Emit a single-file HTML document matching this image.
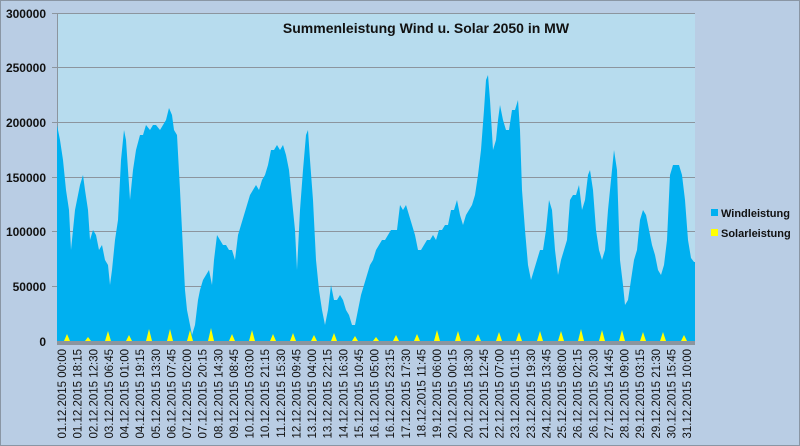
<!DOCTYPE html>
<html><head><meta charset="utf-8"><style>
html,body{margin:0;padding:0;background:#b9cde4;}
svg{display:block;font-family:"Liberation Sans",sans-serif;}
</style></head><body>
<svg width="800" height="446" viewBox="0 0 800 446">
<rect x="0" y="0" width="800" height="446" fill="#b9cde4"/>
<rect x="0.5" y="0.5" width="799" height="445" fill="none" stroke="#8a96a4"/>
<rect x="57" y="13" width="638" height="328" fill="#b7dcee"/>
<g stroke="#8c959e" stroke-width="1">
<line x1="52" y1="13.5" x2="695" y2="13.5"/>
<line x1="52" y1="67.5" x2="695" y2="67.5"/>
<line x1="52" y1="122.5" x2="695" y2="122.5"/>
<line x1="52" y1="177.5" x2="695" y2="177.5"/>
<line x1="52" y1="231.5" x2="695" y2="231.5"/>
<line x1="52" y1="286.5" x2="695" y2="286.5"/>
<line x1="57.5" y1="13" x2="57.5" y2="341"/>
</g>
<polygon fill="#00b0f0" points="57,341 57,125 60,140 63,160 66,190 69,210 71,250 73,230 75,210 77,200 80,185 83,175 85,190 88,210 90,240 93,230 96,235 99,250 102,245 105,260 108,265 110,285 112,270 115,240 118,220 121,160 124,130 126,140 128,170 130,200 133,170 136,150 140,135 143,135 146,125 150,130 153,125 156,125 160,130 163,125 166,120 169,108 172,115 174,130 177,135 180,190 183,250 185,290 187,310 190,325 192,335 195,325 198,300 200,290 203,280 206,275 209,270 212,285 214,260 217,235 220,240 223,245 226,245 229,250 232,250 235,260 238,235 241,225 244,215 247,205 250,195 253,190 256,185 259,190 262,180 265,175 268,165 271,150 274,150 277,145 280,150 283,145 286,155 289,170 292,200 295,230 297,270 300,210 303,170 306,135 308,130 310,160 313,200 316,260 319,290 322,310 325,325 328,310 331,285 334,300 337,300 340,295 343,300 346,310 349,315 352,325 355,325 358,310 361,295 364,285 367,275 370,265 373,260 376,250 379,245 382,240 385,240 388,235 391,230 394,230 397,230 400,205 403,210 406,205 409,215 412,225 415,235 418,250 421,250 424,245 427,240 430,240 433,235 436,240 439,230 442,230 445,225 448,225 451,210 454,210 457,200 460,215 463,225 466,215 469,210 472,205 475,195 478,175 481,150 484,110 486,80 488,75 490,100 493,150 496,140 498,120 500,105 503,120 506,130 509,130 512,110 515,110 518,100 520,130 522,190 525,230 528,265 531,280 534,270 537,260 540,250 543,250 546,230 549,200 552,210 555,250 558,275 561,260 564,250 567,240 570,200 573,195 576,195 579,185 582,210 585,200 588,175 590,170 593,190 596,230 599,250 602,260 605,250 608,210 611,180 614,150 617,170 620,260 623,285 625,305 628,300 631,280 634,260 637,250 640,220 643,210 646,215 649,230 652,245 655,255 658,270 661,275 664,265 667,240 670,175 673,165 676,165 679,165 682,175 685,200 688,240 691,258 694,262 695,262 695,341"/>
<g fill="#ffff00">
<polygon points="64,341 67,334 70,341"/>
<polygon points="85,341 88,337 91,341"/>
<polygon points="105,341 108,331 111,341"/>
<polygon points="126,341 129,335 132,341"/>
<polygon points="146,341 149,329 152,341"/>
<polygon points="167,341 170,329 173,341"/>
<polygon points="187,341 190,330 193,341"/>
<polygon points="208,341 211,328 214,341"/>
<polygon points="229,341 232,334 235,341"/>
<polygon points="249,341 252,330 255,341"/>
<polygon points="270,341 273,334 276,341"/>
<polygon points="290,341 293,333 296,341"/>
<polygon points="311,341 314,335 317,341"/>
<polygon points="331,341 334,333 337,341"/>
<polygon points="352,341 355,336 358,341"/>
<polygon points="373,341 376,337 379,341"/>
<polygon points="393,341 396,335 399,341"/>
<polygon points="414,341 417,334 420,341"/>
<polygon points="434,341 437,330 440,341"/>
<polygon points="455,341 458,331 461,341"/>
<polygon points="475,341 478,334 481,341"/>
<polygon points="496,341 499,332 502,341"/>
<polygon points="516,341 519,332 522,341"/>
<polygon points="537,341 540,331 543,341"/>
<polygon points="558,341 561,331 564,341"/>
<polygon points="578,341 581,329 584,341"/>
<polygon points="599,341 602,330 605,341"/>
<polygon points="619,341 622,330 625,341"/>
<polygon points="640,341 643,332 646,341"/>
<polygon points="660,341 663,332 666,341"/>
<polygon points="681,341 684,335 687,341"/>
</g>
<rect x="57" y="341" width="638" height="4" fill="#8c959e"/>
<g font-size="12" font-weight="bold" fill="#111" text-anchor="end">
<text x="46" y="18">300000</text>
<text x="46" y="72">250000</text>
<text x="46" y="127">200000</text>
<text x="46" y="182">150000</text>
<text x="46" y="236">100000</text>
<text x="46" y="291">50000</text>
<text x="46" y="346">0</text>
</g>
<text x="426" y="33" font-size="14" font-weight="bold" fill="#111" text-anchor="middle">Summenleistung Wind u. Solar 2050 in MW</text>
<rect x="711" y="209" width="7" height="7" fill="#00b0f0"/>
<text x="721" y="217" font-size="11" font-weight="bold" fill="#111">Windleistung</text>
<rect x="711" y="229" width="7" height="7" fill="#ffff00"/>
<text x="721" y="237" font-size="11" font-weight="bold" fill="#111">Solarleistung</text>
<g font-size="11.5" fill="#111" text-anchor="end">
<text transform="translate(66,349) rotate(-90)">01.12.2015 00:00</text>
<text transform="translate(81.6,349) rotate(-90)">01.12.2015 18:15</text>
<text transform="translate(97.3,349) rotate(-90)">02.12.2015 12:30</text>
<text transform="translate(112.9,349) rotate(-90)">03.12.2015 06:45</text>
<text transform="translate(128.5,349) rotate(-90)">04.12.2015 01:00</text>
<text transform="translate(144.1,349) rotate(-90)">04.12.2015 19:15</text>
<text transform="translate(159.8,349) rotate(-90)">05.12.2015 13:30</text>
<text transform="translate(175.4,349) rotate(-90)">06.12.2015 07:45</text>
<text transform="translate(191,349) rotate(-90)">07.12.2015 02:00</text>
<text transform="translate(206.6,349) rotate(-90)">07.12.2015 20:15</text>
<text transform="translate(222.3,349) rotate(-90)">08.12.2015 14:30</text>
<text transform="translate(237.9,349) rotate(-90)">09.12.2015 08:45</text>
<text transform="translate(253.5,349) rotate(-90)">10.12.2015 03:00</text>
<text transform="translate(269.1,349) rotate(-90)">10.12.2015 21:15</text>
<text transform="translate(284.8,349) rotate(-90)">11.12.2015 15:30</text>
<text transform="translate(300.4,349) rotate(-90)">12.12.2015 09:45</text>
<text transform="translate(316,349) rotate(-90)">13.12.2015 04:00</text>
<text transform="translate(331.6,349) rotate(-90)">13.12.2015 22:15</text>
<text transform="translate(347.3,349) rotate(-90)">14.12.2015 16:30</text>
<text transform="translate(362.9,349) rotate(-90)">15.12.2015 10:45</text>
<text transform="translate(378.5,349) rotate(-90)">16.12.2015 05:00</text>
<text transform="translate(394.1,349) rotate(-90)">16.12.2015 23:15</text>
<text transform="translate(409.8,349) rotate(-90)">17.12.2015 17:30</text>
<text transform="translate(425.4,349) rotate(-90)">18.12.2015 11:45</text>
<text transform="translate(441,349) rotate(-90)">19.12.2015 06:00</text>
<text transform="translate(456.6,349) rotate(-90)">20.12.2015 00:15</text>
<text transform="translate(472.3,349) rotate(-90)">20.12.2015 18:30</text>
<text transform="translate(487.9,349) rotate(-90)">21.12.2015 12:45</text>
<text transform="translate(503.5,349) rotate(-90)">22.12.2015 07:00</text>
<text transform="translate(519.1,349) rotate(-90)">23.12.2015 01:15</text>
<text transform="translate(534.8,349) rotate(-90)">23.12.2015 19:30</text>
<text transform="translate(550.4,349) rotate(-90)">24.12.2015 13:45</text>
<text transform="translate(566,349) rotate(-90)">25.12.2015 08:00</text>
<text transform="translate(581.6,349) rotate(-90)">26.12.2015 02:15</text>
<text transform="translate(597.3,349) rotate(-90)">26.12.2015 20:30</text>
<text transform="translate(612.9,349) rotate(-90)">27.12.2015 14:45</text>
<text transform="translate(628.5,349) rotate(-90)">28.12.2015 09:00</text>
<text transform="translate(644.1,349) rotate(-90)">29.12.2015 03:15</text>
<text transform="translate(659.8,349) rotate(-90)">29.12.2015 21:30</text>
<text transform="translate(675.4,349) rotate(-90)">30.12.2015 15:45</text>
<text transform="translate(691,349) rotate(-90)">31.12.2015 10:00</text>
</g>
</svg>
</body></html>
